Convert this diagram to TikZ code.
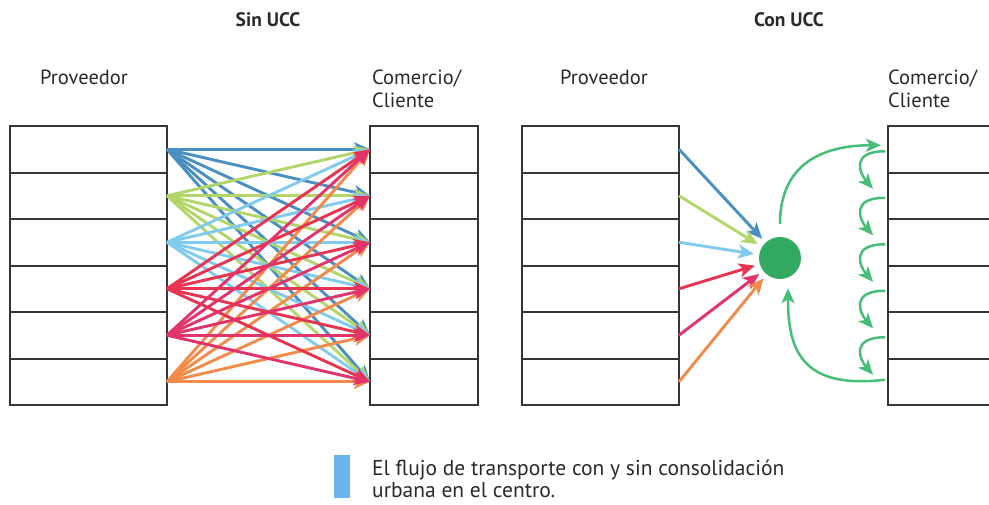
\documentclass[tikz,border=0pt]{standalone}
\usepackage{fontspec}
\setmainfont{PT Sans}
\usetikzlibrary{arrows.meta,calc}
\definecolor{cblue}{HTML}{4A8FC2}
\definecolor{cgreen}{HTML}{B2D66A}
\definecolor{clblue}{HTML}{80CBEE}
\definecolor{cred}{HTML}{E8344E}
\definecolor{cpink}{HTML}{E3336B}
\definecolor{corange}{HTML}{F28A4A}
\definecolor{cucc}{HTML}{33AA64}
\definecolor{carc}{HTML}{47BE78}
\definecolor{linec}{HTML}{363636}
\definecolor{txt}{HTML}{2A2A2A}
\definecolor{legc}{HTML}{6DB3F0}
\begin{document}
\begin{tikzpicture}[x=1pt,y=-1pt,
  cell/.style={draw=linec, line width=2pt, minimum height=46.5pt, inner sep=0pt, outer sep=0pt},
  lbl/.style={font=\fontsize{20.5}{22}\selectfont, text=txt, inner sep=0pt, anchor=base west},
  ttl/.style={font=\fontsize{19.5}{22}\selectfont\bfseries, text=txt, inner sep=0pt, anchor=base},
  leg/.style={font=\fontsize{21.5}{24}\selectfont, text=txt, inner sep=0pt, anchor=base west},
  flow/.style={line width=2.9pt, -{Stealth[length=16pt,width=14pt,inset=4pt]}},
  feed/.style={line width=2.9pt, shorten >=5pt, -{Stealth[length=16pt,width=14pt,inset=4pt]}},
  garc/.style={draw=carc, line width=2.5pt, -{Stealth[length=15pt,width=13pt,inset=4pt]}}
]
\path[use as bounding box, clip] (0,0) rectangle (989,504);
\fill[white] (0,0) rectangle (989,504);

% titles
\node[ttl] (t1) at (268,26) {Sin UCC};
\node[ttl] (t2) at (789,26) {Con UCC};
\node[lbl] (pv1) at (40,84) {Proveedor};
\node[lbl] (cm1) at (372,84) {Comercio/};
\node[lbl] (cl1) at (372,107) {Cliente};
\node[lbl] (pv2) at (560,84) {Proveedor};
\node[lbl] (cm2) at (888,84) {Comercio/};
\node[lbl] (cl2) at (888,107) {Cliente};

% blocks
\foreach \i in {1,...,6} {
  \node[cell, minimum width=157pt] (p\i) at (88.5,{126+46.5*(\i-0.5)}) {};
  \node[cell, minimum width=108pt] (c\i) at (424,{126+46.5*(\i-0.5)}) {};
  \node[cell, minimum width=157pt] (q\i) at (600.5,{126+46.5*(\i-0.5)}) {};
  \node[cell, minimum width=130pt] (d\i) at (953,{126+46.5*(\i-0.5)}) {};
}

% Sin UCC: all-to-all flows
\foreach \s/\col in {1/cblue,2/cgreen,3/clblue,6/corange,4/cred,5/cpink} {
  \foreach \t in {1,...,6} {
    \draw[flow, draw=\col, \col] (p\s.east) -- (c\t.west);
  }
}

% Con UCC
\node[circle, fill=cucc, minimum size=42pt, inner sep=0pt] (ucc) at (780,258) {};
\foreach \s/\col in {1/cblue,2/cgreen,3/clblue,4/cred,5/cpink,6/corange} {
  \draw[feed, draw=\col, \col] (q\s.east) -- (ucc);
}
\draw[garc, carc, shorten <=13pt, shorten >=7pt] (ucc.north) .. controls +(0,-80) and +(-55,0) .. ($(d1.west)+(0,-4)$);
\draw[garc, carc] ($(d6.west)+(-3,-2)$) .. controls +(-85,10) and +(0,60) .. ($(ucc.south)+(8,9)$);
\foreach \i/\j in {1/2,2/3,3/4,4/5,5/6} {
  \draw[garc, carc] ($(d\i.west)+(-3,2)$) .. controls +(-34,0) and +(-14,-16) .. ($(d\j.west)+(-15,-7)$);
}

% legend
\fill[legc] (334,455) rectangle (350,498);
\node[leg] (lg1) at (372,475) {El flujo de transporte con y sin consolidación};
\node[leg] (lg2) at (372,497) {urbana en el centro.};
\end{tikzpicture}
\end{document}
